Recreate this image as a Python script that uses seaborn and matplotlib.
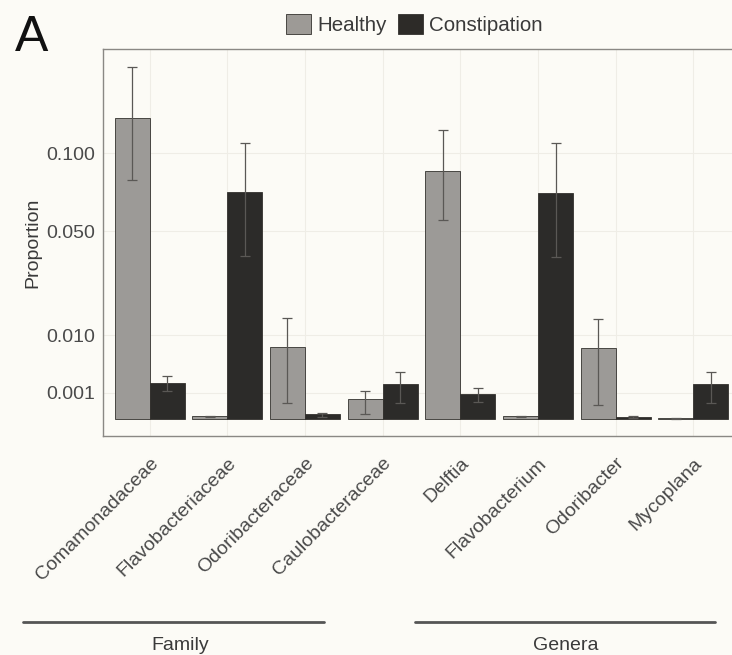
import numpy as np
import pandas as pd
import matplotlib
matplotlib.use("Agg")
import matplotlib.pyplot as plt
from matplotlib.lines import Line2D
from matplotlib.patches import Patch
import seaborn as sns

# ---- data ----
taxa = ["Comamonadaceae", "Flavobacteriaceae", "Odoribacteraceae", "Caulobacteraceae",
        "Delftia", "Flavobacterium", "Odoribacter", "Mycoplana"]
groups = ["Healthy", "Constipation"]
healthy_mean = [0.128, 0.000013, 0.0074, 0.00059, 0.0869, 0.000013, 0.0072, 0.000002]
healthy_se = [0.0475, 0.000006, 0.0070, 0.00055, 0.031, 0.000006, 0.0069, 0.000001]
constip_mean = [0.00187, 0.0727, 0.000036, 0.00177, 0.00091, 0.0725, 0.00001, 0.00177]
constip_se = [0.00076, 0.035, 0.00003, 0.0014, 0.0005, 0.0354, 0.000005, 0.0014]
ytick_vals = [0.001, 0.010, 0.050, 0.100]
ytick_labels = ["0.001", "0.010", "0.050", "0.100"]
section_labels = ["Family", "Genera"]

colors = {"Healthy": "#9d9a96", "Constipation": "#2d2b28"}
bg = "#fcfbf6"

df = pd.DataFrame({
    "taxon": taxa * 2,
    "group": ["Healthy"] * len(taxa) + ["Constipation"] * len(taxa),
    "value": healthy_mean + constip_mean,
    "se": healthy_se + constip_se,
})

sns.set_theme(style="white")
plt.rcParams["font.family"] = ["Liberation Sans", "DejaVu Sans"]

fig = plt.figure(figsize=(7.32, 6.55), dpi=100, facecolor=bg)
W, H = 732, 655
left, right, top, bottom = 103, 740, 49, 436
ax = fig.add_axes([left / W, 1 - bottom / H, (right - left) / W, (bottom - top) / H])
ax.set_facecolor(bg)

fwd = lambda x: np.sign(x) * np.sqrt(np.abs(x))
inv = lambda x: np.sign(x) * x ** 2
ax.set_yscale("function", functions=(fwd, inv))

sns.barplot(data=df, x="taxon", y="value", hue="group", order=taxa, hue_order=groups,
            palette=colors, width=0.9, gap=0, errorbar=None, edgecolor="#33312e",
            linewidth=0.6, ax=ax, legend=False, zorder=2)

# error bars at bar centers
for cont, g in zip(ax.containers, groups):
    sub = df[df.group == g].set_index("taxon").loc[taxa]
    xs = [p.get_x() + p.get_width() / 2 for p in cont.patches]
    ax.errorbar(xs, sub["value"].values, yerr=sub["se"].values, fmt="none",
                ecolor="#5a5855", elinewidth=0.9, capsize=3.5, capthick=0.9, zorder=3)

tops = np.sqrt(np.array(df["value"] + df["se"]))
rng = tops.max()
ax.set_ylim(-(0.047 * rng) ** 2, (rng * 1.05) ** 2)
ax.set_xlim(-0.6, len(taxa) - 0.4)

ax.set_yticks(ytick_vals)
ax.set_yticklabels(ytick_labels)
ax.set_xticks(range(len(taxa)))
ax.set_xticklabels(taxa, rotation=45, ha="right", rotation_mode="anchor")
ax.tick_params(axis="both", labelsize=14, colors="#444444", labelcolor="#4a4a4a",
               length=4.5, width=1.0, direction="out")
ax.tick_params(axis="x", pad=9)
ax.tick_params(axis="y", pad=1)
ax.set_xlabel("")
ax.set_ylabel("Proportion", fontsize=14, color="#3a3a3a", labelpad=4)

ax.grid(True, color="#efede6", linewidth=0.8, zorder=0)
ax.set_axisbelow(True)
for s in ax.spines.values():
    s.set_color("#8a8884")
    s.set_linewidth(1.0)

# legend
handles = [Patch(facecolor=colors[g], edgecolor="#33312e", linewidth=0.6) for g in groups]
fig.legend(handles, groups, loc="upper center", bbox_to_anchor=(0.566, 1.007), ncol=2,
           frameon=False, fontsize=14.8, handlelength=1.2, handleheight=1.15,
           handletextpad=0.3, columnspacing=0.55, labelcolor="#3a3a3a")

# panel letter
fig.text(15 / W, 1 - 51 / H, "A", fontsize=36, color="#111111", ha="left", va="baseline")

# section lines and labels
line_y = 1 - 622 / H
for (x0, x1), lab, xc in zip([(23, 324), (415, 715)], section_labels, [180, 566]):
    fig.add_artist(Line2D([x0 / W, x1 / W], [line_y, line_y], color="#555555", linewidth=2.0))
    fig.text(xc / W, 1 - 645 / H, lab, fontsize=14, color="#3a3a3a", ha="center", va="center")

fig.savefig("out.png", dpi=100, facecolor=bg)
